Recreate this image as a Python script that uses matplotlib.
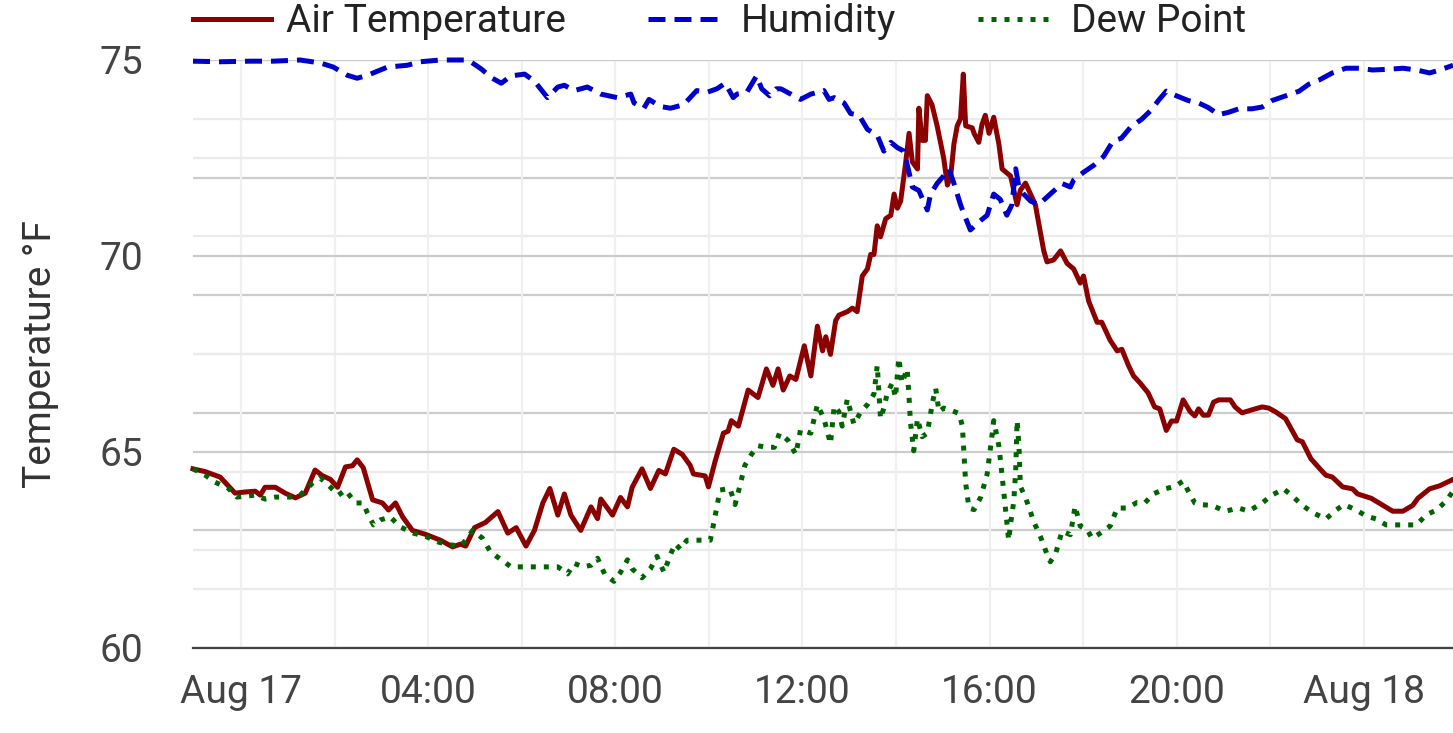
import matplotlib
matplotlib.use("Agg")
import matplotlib.pyplot as plt
import matplotlib.dates as mdates
from matplotlib.ticker import MultipleLocator, FuncFormatter
from datetime import datetime, timedelta

plt.rcParams['font.family'] = ['Roboto', 'DejaVu Sans']

# time axis: hours after midnight of Aug 17
START = datetime(2024, 8, 17)

air_hours = [-1.03, -0.77, -0.45, -0.13, 0.09, 0.30, 0.41, 0.51, 0.73, 0.94, 1.16, 1.37,
             1.58, 1.73, 1.91, 2.06, 2.23, 2.38, 2.48, 2.61, 2.81, 3.02, 3.15, 3.30,
             3.45, 3.66, 3.94, 4.26, 4.52, 4.69, 4.80, 4.99, 5.22, 5.49, 5.70, 5.88,
             6.09, 6.27, 6.45, 6.60, 6.77, 6.91, 7.05, 7.26, 7.48, 7.62, 7.69, 7.94,
             8.11, 8.26, 8.36, 8.57, 8.75, 8.93, 9.07, 9.25, 9.43, 9.60, 9.67, 9.92,
             9.99, 10.13, 10.31, 10.41, 10.48, 10.63, 10.84, 11.05, 11.23, 11.37, 11.48,
             11.59, 11.73, 11.86, 12.04, 12.18, 12.32, 12.43, 12.50, 12.60, 12.71, 12.78,
             12.96, 13.07, 13.17, 13.28, 13.39, 13.46, 13.53, 13.60, 13.67, 13.78, 13.89,
             13.96, 14.03, 14.10, 14.21, 14.28, 14.35, 14.46, 14.49, 14.56, 14.63, 14.67,
             14.77, 14.88, 15.02, 15.10, 15.17, 15.24, 15.31, 15.38, 15.44, 15.49, 15.63,
             15.67, 15.77, 15.84, 15.91, 15.99, 16.09, 16.20, 16.27, 16.45, 16.59, 16.66,
             16.77, 16.98, 17.16, 17.23, 17.37, 17.52, 17.66, 17.80, 17.94, 18.01, 18.12,
             18.30, 18.40, 18.58, 18.73, 18.83, 18.97, 19.08, 19.22, 19.39, 19.53, 19.64,
             19.78, 19.89, 20.00, 20.14, 20.29, 20.39, 20.47, 20.57, 20.68, 20.79, 20.90,
             21.15, 21.25, 21.40, 21.68, 21.83, 21.97, 22.11, 22.33, 22.47, 22.58, 22.69,
             22.87, 23.05, 23.19, 23.33, 23.55, 23.76, 23.87, 24.16, 24.41, 24.62, 24.84,
             25.05, 25.16, 25.41, 25.63, 25.91]
air_temp = [64.57, 64.5, 64.36, 63.95, 63.98, 64.0, 63.9, 64.1, 64.1, 63.95, 63.83, 63.95,
            64.54, 64.4, 64.3, 64.1, 64.62, 64.65, 64.8, 64.6, 63.78, 63.7, 63.52, 63.7,
            63.35, 63.0, 62.9, 62.75, 62.58, 62.65, 62.6, 63.07, 63.2, 63.48, 62.93, 63.07,
            62.6, 63.0, 63.7, 64.07, 63.39, 63.93, 63.39, 63.0, 63.6, 63.3, 63.8, 63.39,
            63.84, 63.6, 64.1, 64.57, 64.07, 64.53, 64.44, 65.07, 64.94, 64.66, 64.44, 64.39,
            64.11, 64.75, 65.48, 65.53, 65.8, 65.66, 66.58, 66.39, 67.12, 66.7, 67.12,
            66.58, 66.94, 66.85, 67.71, 66.94, 68.21, 67.58, 67.94, 67.49, 68.35, 68.49,
            68.58, 68.67, 68.58, 69.49, 69.67, 70.04, 70.04, 70.77, 70.49, 70.95, 71.04,
            71.58, 71.22, 71.4, 72.4, 73.13, 72.4, 72.22, 73.77, 72.95, 72.95, 74.09,
            73.86, 73.32, 72.5, 71.81, 72.04, 72.86, 73.32, 73.5, 74.64, 73.32, 73.27,
            73.13, 72.9, 73.36, 73.59, 73.13, 73.54, 72.86, 72.22, 72.04, 71.31, 71.68,
            71.86, 71.31, 70.13, 69.85, 69.9, 70.13, 69.81, 69.67, 69.31, 69.49, 68.85,
            68.31, 68.31, 67.85, 67.58, 67.62, 67.21, 66.94, 66.76, 66.51, 66.15, 66.1,
            65.55, 65.79, 65.79, 66.33, 66.03, 65.92, 66.1, 65.94, 65.94, 66.27, 66.33,
            66.33, 66.15, 66.0, 66.1, 66.15, 66.12, 66.03, 65.85, 65.55, 65.31, 65.26,
            64.83, 64.59, 64.41, 64.36, 64.11, 64.06, 63.93, 63.82, 63.64, 63.49, 63.49,
            63.64, 63.82, 64.06, 64.14, 64.3]

dew_hours = [-1.03, -0.77, -0.56, -0.28, -0.09, 0.30, 0.51, 0.73, 1.05, 1.26, 1.52, 1.69,
             1.91, 2.08, 2.23, 2.44, 2.61, 2.70, 2.83, 2.98, 3.19, 3.40, 3.68, 3.94,
             4.22, 4.48, 4.69, 4.80, 4.95, 5.16, 5.33, 5.56, 5.77, 6.06, 6.48, 6.77,
             6.98, 7.12, 7.30, 7.48, 7.62, 7.77, 7.97, 8.11, 8.26, 8.36, 8.57, 8.75,
             8.89, 9.04, 9.18, 9.28, 9.39, 9.53, 9.82, 10.03, 10.10, 10.24, 10.45, 10.56,
             10.63, 10.77, 10.91, 11.05, 11.23, 11.40, 11.51, 11.69, 11.86, 11.96, 12.18,
             12.32, 12.46, 12.60, 12.68, 12.78, 12.85, 12.96, 13.10, 13.25, 13.39, 13.53,
             13.60, 13.67, 13.74, 13.81, 13.92, 13.99, 14.06, 14.13, 14.24, 14.28, 14.31,
             14.38, 14.46, 14.56, 14.67, 14.78, 14.85, 14.92, 15.02, 15.17, 15.35, 15.42,
             15.45, 15.49, 15.56, 15.67, 15.81, 15.95, 16.06, 16.09, 16.20, 16.27, 16.34,
             16.41, 16.45, 16.52, 16.56, 16.59, 16.63, 16.66, 16.77, 16.95, 17.09, 17.23,
             17.30, 17.41, 17.55, 17.73, 17.83, 17.94, 18.09, 18.19, 18.37, 18.58, 18.73,
             18.94, 19.15, 19.32, 19.50, 19.75, 19.96, 20.14, 20.25, 20.39, 20.47, 20.75,
             21.04, 21.33, 21.54, 21.83, 22.04, 22.29, 22.47, 22.69, 22.90, 23.19, 23.41,
             23.58, 23.84, 24.05, 24.27, 24.48, 24.77, 25.13, 25.34, 25.56, 25.77, 25.91]
dew_point = [64.57, 64.41, 64.23, 64.08, 63.85, 63.9, 63.8, 63.85, 63.85, 63.9, 64.2, 64.34,
             64.1, 63.9, 64.03, 63.7, 63.7, 63.44, 63.14, 63.27, 63.34, 63.09, 62.93, 62.85,
             62.7, 62.63, 62.6, 62.75, 63.0, 62.8, 62.45, 62.25, 62.07, 62.07, 62.07, 62.07,
             61.89, 62.16, 62.07, 62.11, 62.29, 61.89, 61.7, 61.93, 62.25, 62.02, 61.79, 62.02,
             62.34, 61.93, 62.39, 62.66, 62.52, 62.75, 62.75, 62.75, 63.16, 64.03, 64.07, 63.66,
             63.98, 64.66, 64.94, 65.16, 65.12, 65.12, 65.48, 65.3, 64.94, 65.57, 65.48,
             66.21, 65.85, 65.21, 66.17, 66.03, 65.66, 66.35, 65.71, 66.03, 66.21, 66.48,
             67.21, 65.85, 66.12, 66.48, 66.76, 66.39, 67.4, 66.76, 67.12, 66.39, 65.76,
             65.03, 65.85, 65.39, 65.48, 66.26, 66.62, 66.03, 66.12, 66.07, 65.98, 65.66,
             65.03, 64.21, 63.57, 63.53, 63.84, 64.44, 65.48, 65.8, 65.16, 64.39, 63.57,
             62.75, 63.16, 63.75, 64.53, 65.8, 65.16, 64.12, 63.84, 63.21, 62.84, 62.39,
             62.2, 62.39, 62.98, 62.89, 63.62, 63.11, 63.02, 62.8, 62.93, 63.11, 63.57,
             63.57, 63.71, 63.7, 63.93, 64.06, 64.12, 64.26, 64.0, 63.7, 63.66, 63.64,
             63.49, 63.57, 63.49, 63.7, 63.9, 64.06, 63.88, 63.64, 63.46, 63.29, 63.52,
             63.66, 63.52, 63.37, 63.29, 63.14, 63.14, 63.14, 63.4, 63.52, 63.76, 64.0]

hum_hours = [-1.03, -0.45, 0.19, 0.69, 1.26, 1.69, 1.97, 2.27, 2.48, 2.70, 3.13, 3.55,
             3.83, 4.26, 4.85, 5.13, 5.35, 5.56, 5.77, 6.06, 6.27, 6.55, 6.77, 6.91,
             7.12, 7.40, 7.69, 8.04, 8.33, 8.40, 8.61, 8.72, 8.96, 9.18, 9.46, 9.74,
             9.96, 10.17, 10.35, 10.52, 10.60, 10.81, 11.02, 11.13, 11.30, 11.44, 11.54,
             11.75, 11.96, 12.18, 12.46, 12.57, 12.68, 12.89, 13.03, 13.21, 13.39, 13.60,
             13.74, 13.89, 14.03, 14.17, 14.28, 14.35, 14.49, 14.67, 14.74, 14.88, 15.02,
             15.13, 15.24, 15.38, 15.45, 15.59, 15.81, 15.95, 16.09, 16.23, 16.37, 16.48,
             16.56, 16.63, 16.73, 16.88, 17.05, 17.30, 17.55, 17.73, 17.80, 18.01, 18.23,
             18.44, 18.64, 18.82, 19.03, 19.25, 19.46, 19.61, 19.78, 20.00, 20.25, 20.47,
             20.68, 20.90, 21.11, 21.33, 21.61, 21.83, 22.04, 22.33, 22.62, 22.83, 23.05,
             23.33, 23.62, 23.91, 24.19, 24.48, 24.84, 25.13, 25.41, 25.63, 25.91]
humidity = [99.8, 99.7, 99.8, 99.8, 100.0, 99.5, 98.8, 97.4, 96.9, 97.4, 98.8, 99.1,
            99.7, 100.0, 100.0, 98.5, 97.0, 96.05, 97.3, 97.6, 96.4, 93.6, 95.4, 95.7,
            94.8, 95.4, 94.2, 93.6, 94.2, 92.7, 91.8, 93.3, 92.1, 91.8, 92.4, 94.8,
            94.5, 95.1, 96.05, 93.6, 94.2, 94.5, 97.3, 95.1, 93.9, 95.1, 95.1,
            94.2, 93.3, 94.2, 94.8, 93.3, 93.6, 92.7, 90.9, 90.6, 88.2, 87.2,
            84.5, 86.0, 85.1, 84.5, 80.9, 78.4, 77.8, 74.5, 77.2, 79.0, 80.3,
            81.5, 79.0, 75.4, 73.9, 71.1, 72.7, 73.6, 77.2, 76.3, 73.6, 75.4,
            81.5, 78.4, 77.2, 76.0, 75.4, 77.2, 79.0, 78.4, 79.6, 80.9, 82.1,
            83.6, 86.2, 86.7, 88.7, 89.9, 91.5, 93.1, 94.7, 93.9, 93.1, 92.7,
            91.9, 90.7, 91.1, 91.7, 91.7, 92.0, 93.1, 93.9, 94.7, 95.9, 96.6,
            97.8, 98.6, 98.6, 98.3, 98.4, 98.6, 98.3, 97.8, 98.3, 99.1]


def to_times(hours):
    return [START + timedelta(hours=h) for h in hours]


def time_label(x, pos):
    d = mdates.num2date(x)
    if d.hour == 0:
        return d.strftime('%b %d')
    return d.strftime('%H:%M')


fig = plt.figure(figsize=(14.53, 7.33), dpi=100)
ax = fig.add_axes([193 / 1453, 85 / 733, 1260 / 1453, 588 / 733])
# humidity scale sits behind, its ticks hidden, only its grid shows
ax2 = ax.twinx()
ax.set_zorder(2)
ax2.set_zorder(1)
ax.patch.set_visible(False)

ax2.set_ylim(0, 100)
ax2.yaxis.set_major_locator(MultipleLocator(20))
ax2.yaxis.set_minor_locator(MultipleLocator(10))
ax2.grid(which='major', axis='y', color='#cccccc', lw=1.6)
ax2.grid(which='minor', axis='y', color='#ebebeb', lw=1.6)
ax2.tick_params(which='both', right=False, labelright=False)
for s in ax2.spines.values():
    s.set_visible(False)

lw = 3.6
ax.plot(to_times(air_hours), air_temp, color='#8b0000', lw=lw,
        label='Air Temperature', clip_on=False)
ax.plot(to_times(hum_hours), humidity, color='#0000cd', lw=lw, ls=(0, (3.4, 1.8)),
        label='Humidity', transform=ax2.transData, clip_on=False)
ax.plot(to_times(dew_hours), dew_point, color='#006400', lw=lw, ls=(0, (1.0, 1.6)),
        label='Dew Point', clip_on=False)

ax.set_ylim(60, 75)
ax.set_xlim(to_times([air_hours[0]])[0], to_times([air_hours[-1]])[0])
ax.yaxis.set_major_locator(MultipleLocator(5))
ax.yaxis.set_minor_locator(MultipleLocator(2.5))
ax.xaxis.set_major_locator(mdates.HourLocator(byhour=range(0, 24, 4)))
ax.xaxis.set_minor_locator(mdates.HourLocator(byhour=range(2, 24, 4)))
ax.xaxis.set_major_formatter(FuncFormatter(time_label))

ax.grid(which='major', axis='y', color='#cccccc', lw=1.6)
ax.grid(which='minor', axis='y', color='#ebebeb', lw=1.6)
ax.grid(which='both', axis='x', color='#f0f0f0', lw=1.6)
ax.set_axisbelow(True)

ax.tick_params(which='both', length=0)
ax.tick_params(axis='both', which='major', labelsize=28, labelcolor='#444444')
ax.tick_params(axis='x', pad=19)
ax.tick_params(axis='y', pad=36)

for side in ['top', 'right', 'left']:
    ax.spines[side].set_visible(False)
ax.spines['bottom'].set_color('#444444')
ax.spines['bottom'].set_linewidth(1.6)

ax.set_ylabel('Temperature °F', fontsize=28, color='#333333')
ax.yaxis.set_label_coords(-0.106, 0.5)

leg = ax.legend(loc='center left', bbox_to_anchor=(0, (648 - 22) / 588), ncol=3,
                frameon=False, fontsize=28, handlelength=2.0, handletextpad=0.4,
                columnspacing=2.1, borderpad=0, borderaxespad=0)
for t in leg.get_texts():
    t.set_color('#222222')

fig.savefig('out.png', dpi=100)
